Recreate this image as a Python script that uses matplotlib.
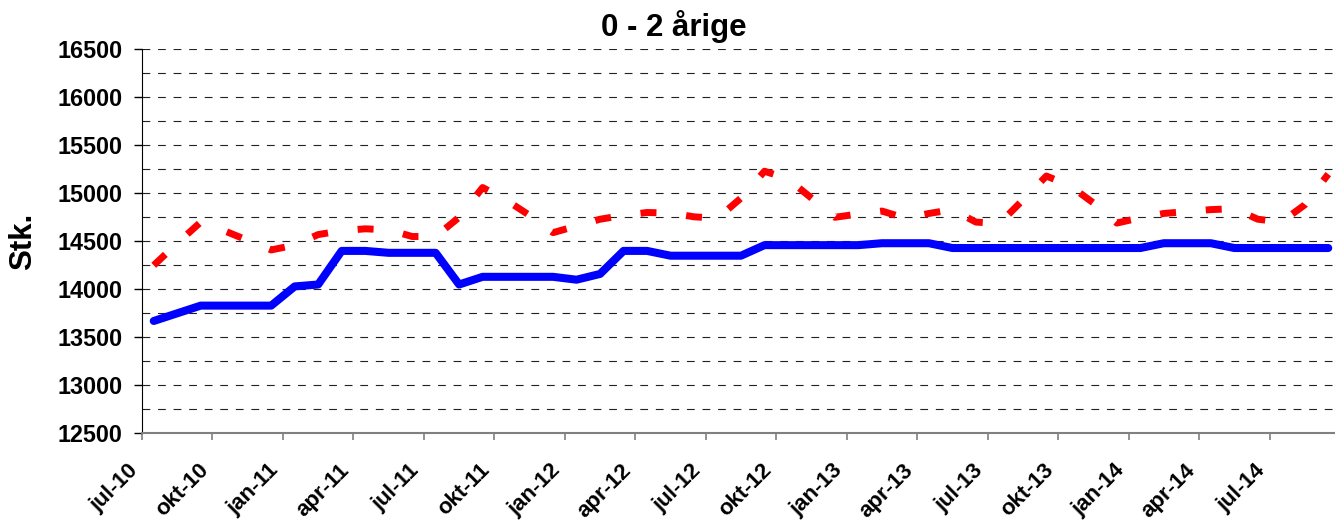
import matplotlib
matplotlib.use('Agg')
import matplotlib.pyplot as plt
import matplotlib.transforms as mtransforms
import numpy as np
from matplotlib.ticker import MultipleLocator

plt.rcParams['font.family'] = ['Liberation Sans', 'DejaVu Sans']
plt.rcParams['font.weight'] = 'bold'

title = "0 - 2 årige"
ylabel = "Stk."

tick_labels = ["jul-10", "okt-10", "jan-11", "apr-11", "jul-11", "okt-11",
               "jan-12", "apr-12", "jul-12", "okt-12", "jan-13", "apr-13",
               "jul-13", "okt-13", "jan-14", "apr-14", "jul-14"]

# monthly values jul-10 .. sep-14
actual = [13670, 13750, 13830, 13830, 13830, 13830, 14030, 14050, 14400, 14400,
          14380, 14380, 14380, 14050, 14130, 14130, 14130, 14130, 14100, 14160,
          14400, 14400, 14350, 14350, 14350, 14350, 14460, 14460, 14460, 14460,
          14460, 14480, 14480, 14480, 14430, 14430, 14430, 14430, 14430, 14430,
          14430, 14430, 14430, 14480, 14480, 14480, 14430, 14430, 14430, 14430,
          14430]

forecast = [14250, 14480, 14700, 14610, 14510, 14410, 14460, 14570, 14610, 14630,
            14620, 14550, 14550, 14750, 15060, 14930, 14770, 14590, 14660, 14730,
            14770, 14800, 14795, 14755, 14740, 14950, 15230, 15150, 14950, 14750,
            14785, 14815, 14740, 14790, 14830, 14700, 14685, 14930, 15180, 15080,
            14900, 14690, 14745, 14790, 14810, 14830, 14840, 14730, 14700, 14880,
            15200]

W, H = 1335, 522
fig = plt.figure(figsize=(W / 100, H / 100), dpi=100)
ax = fig.add_axes([142 / W, 88.7 / H, 1198 / W, 384 / H])

x = np.arange(len(actual))
ax.plot(x, actual, color='#0000ff', lw=5.8, solid_capstyle='round',
        solid_joinstyle='round', zorder=3)
ax.plot(x, forecast, color='#ff0000', lw=5.0, dashes=(2.3, 4.3),
        dash_capstyle='butt', zorder=3)

ax.set_xlim(-0.5, len(actual) - 0.5)
ax.set_ylim(12500, 16500)

ax.yaxis.set_major_locator(MultipleLocator(500))
ax.yaxis.set_minor_locator(MultipleLocator(250))
ax.grid(axis='y', which='both', color='#222222', lw=0.8, linestyle=(0, (7, 7)))
ax.set_axisbelow(True)

ax.set_xticks(np.arange(len(tick_labels)) * 3 - 0.5)
ax.set_xticklabels(tick_labels, rotation=45, ha='right')
shift = mtransforms.ScaledTranslation(5 / 100, 0, fig.dpi_scale_trans)
for lbl in ax.get_xticklabels():
    lbl.set_transform(lbl.get_transform() + shift)

ax.tick_params(axis='y', which='major', length=6, width=1, labelsize=16.8, pad=8)
ax.tick_params(axis='y', which='minor', length=0)
ax.tick_params(axis='x', length=5, width=1.2, color='#808080', labelsize=16, pad=14)

for s in ['top', 'right']:
    ax.spines[s].set_visible(False)
ax.spines['left'].set_color('#000000')
ax.spines['bottom'].set_color('#808080')
ax.spines['bottom'].set_linewidth(1.5)

fig.text(23 / W, 1 - 241.7 / H, ylabel, rotation=90, ha='center', va='center',
         fontsize=22.5, fontweight='bold')
fig.text(674 / W, 1 - 36 / H, title, ha='center', va='baseline',
         fontsize=22.5, fontweight='bold')

fig.savefig('out.png', dpi=100)
